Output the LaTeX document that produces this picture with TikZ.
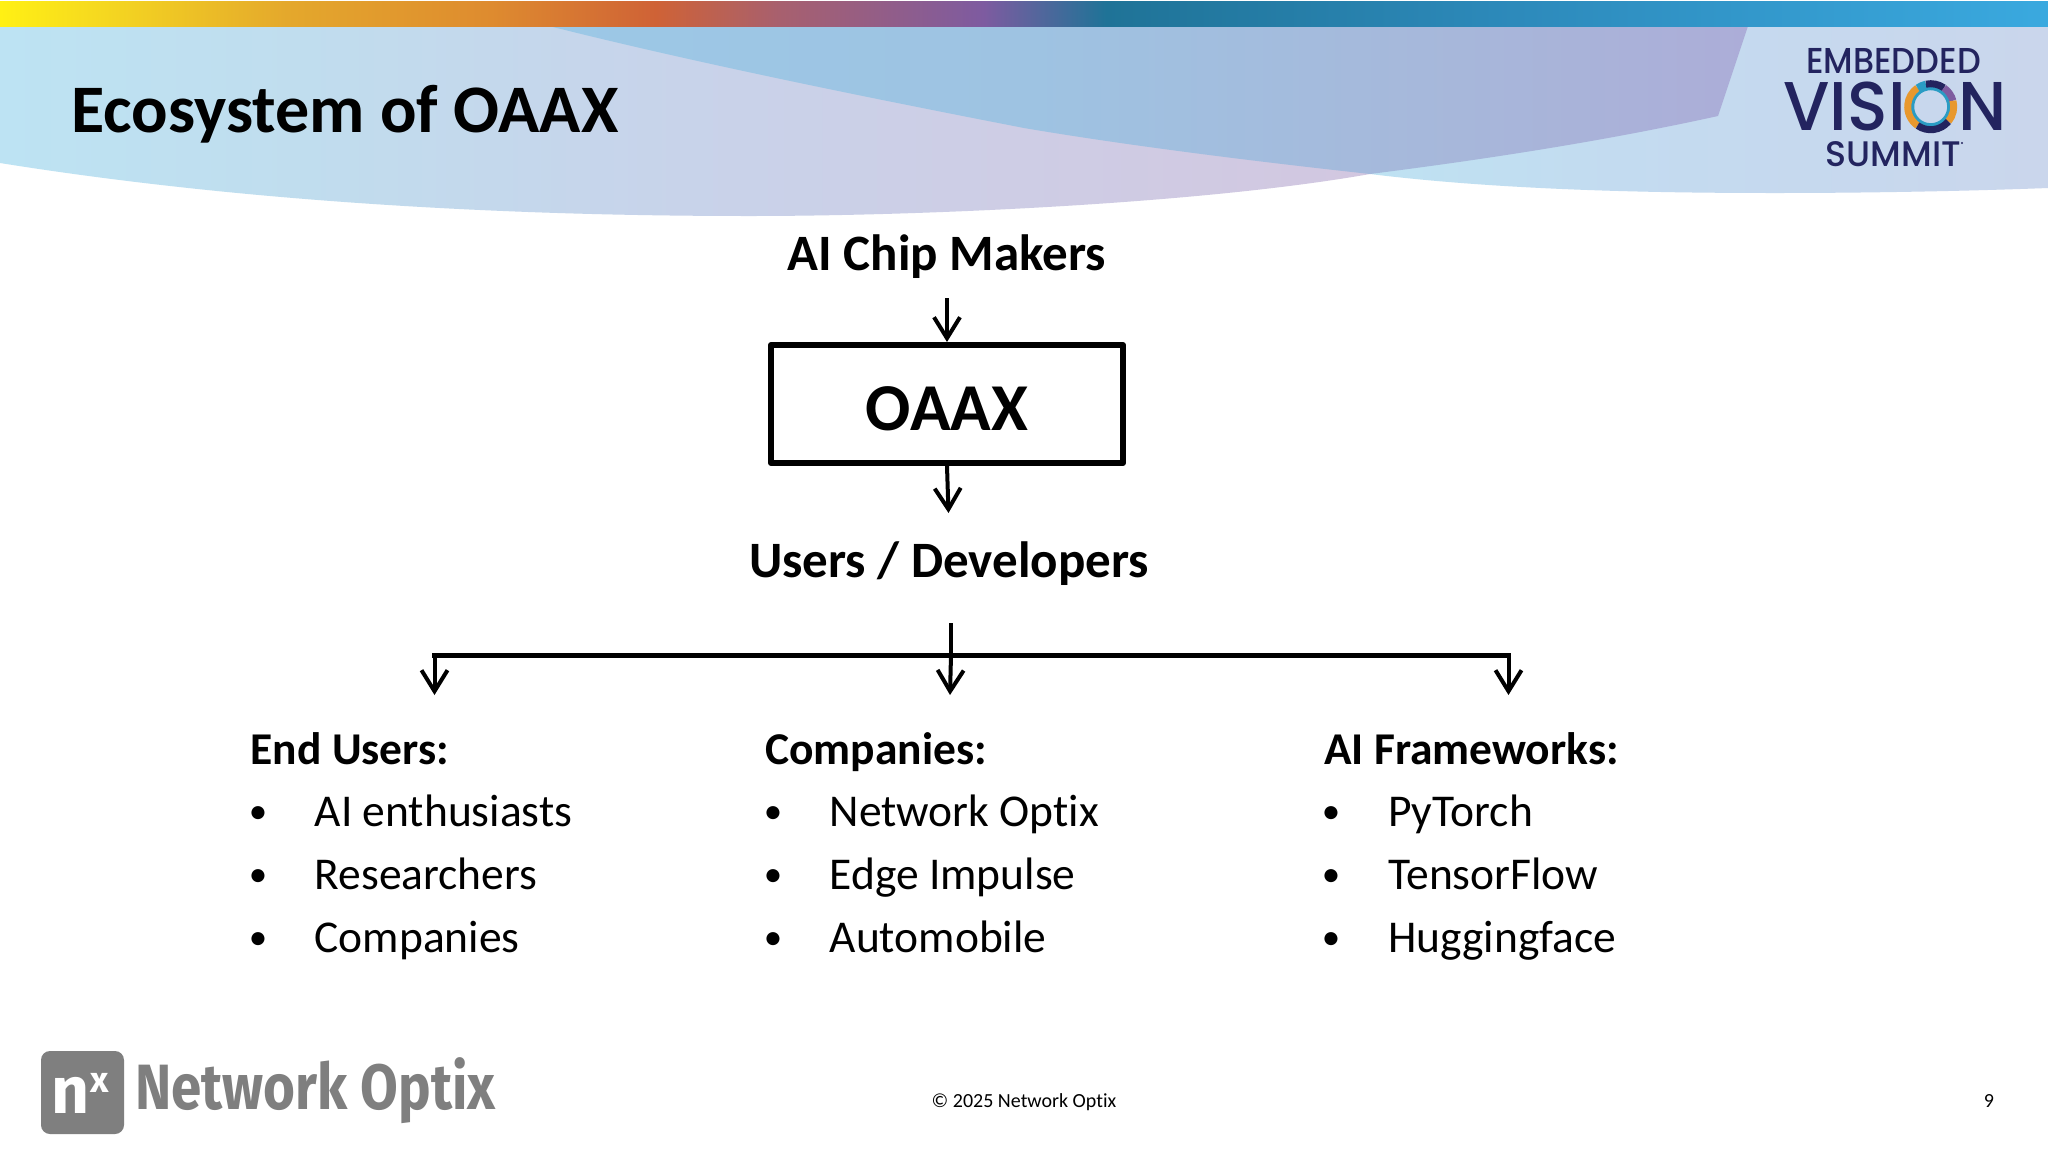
\documentclass[tikz,border=0pt]{standalone}
\usepackage{fontspec}
\usepackage{graphicx}
\setmainfont{Carlito}[Ligatures=NoCommon]
\newfontfamily\logofont{Poppins Medium}
\newfontfamily\nxfont{Fira Sans}
\usetikzlibrary{arrows.meta}
\definecolor{navy}{HTML}{23245F}
\definecolor{nxgray}{HTML}{7F7F7F}
\definecolor{ringteal}{HTML}{2A9CC4}
\definecolor{ringorange}{HTML}{E8982E}
\definecolor{ringpurple}{HTML}{7E5BA0}
\definecolor{ringyellow}{HTML}{F0C82E}
\definecolor{bandA}{HTML}{FFF014}\definecolor{bandB}{HTML}{F5D820}
\definecolor{bandC}{HTML}{E4A82C}\definecolor{bandD}{HTML}{DE8B2F}
\definecolor{bandE}{HTML}{CF6236}\definecolor{bandF}{HTML}{A8606E}
\definecolor{bandG}{HTML}{7E5BA0}\definecolor{bandH}{HTML}{1F7397}
\definecolor{bandI}{HTML}{2D8ABB}\definecolor{bandJ}{HTML}{3AA9DF}
\definecolor{lwA}{HTML}{BDE3F3}\definecolor{lwB}{HTML}{C0DDEE}
\definecolor{lwC}{HTML}{C8D3EA}\definecolor{lwD}{HTML}{CECDE5}\definecolor{lwE}{HTML}{D2C7E0}
\definecolor{rwA}{HTML}{BEE2F2}\definecolor{rwB}{HTML}{C3DBF0}\definecolor{rwC}{HTML}{CAD6EC}
\definecolor{dwA}{HTML}{9CC8E6}\definecolor{dwB}{HTML}{9EC3E2}
\definecolor{dwC}{HTML}{A7B7DA}\definecolor{dwD}{HTML}{ACADD8}
% stops run from 25bp (left edge of path) to 75bp (right edge)
\pgfdeclarehorizontalshading{topband}{100bp}{
 color(0bp)=(bandA);
 color(25bp)=(bandA);color(27.5bp)=(bandB);color(32bp)=(bandC);color(37bp)=(bandD);
 color(41bp)=(bandE);color(44bp)=(bandF);color(49bp)=(bandG);color(52bp)=(bandH);
 color(62bp)=(bandI);color(75bp)=(bandJ);color(100bp)=(bandJ)}
\pgfdeclarehorizontalshading{leftwave}{100bp}{
 color(0bp)=(lwA);color(25bp)=(lwA);color(36bp)=(lwB);color(50bp)=(lwC);
 color(62bp)=(lwD);color(75bp)=(lwE);color(100bp)=(lwE)}
\pgfdeclarehorizontalshading{rightwave}{100bp}{
 color(0bp)=(rwA);color(25bp)=(rwA);color(43bp)=(rwB);color(75bp)=(rwC);color(100bp)=(rwC)}
\pgfdeclarehorizontalshading{darkwave}{100bp}{
 color(0bp)=(dwA);color(25bp)=(dwA);color(45bp)=(dwB);color(63bp)=(dwC);color(75bp)=(dwD);color(100bp)=(dwD)}
\newcommand{\segarc}[5]{\draw[line width=#5pt,#1] (#2:#4) arc[start angle=#2,end angle=#3,radius=#4];}
\tikzset{
 arrowline/.style={line width=4pt,-{Straight Barb[length=21pt,width=26pt,line width=4pt]}},
 plainline/.style={line width=4pt},
 head/.style={font=\fontsize{51}{51}\selectfont\bfseries,anchor=base,inner sep=0pt,text=black},
 listhead/.style={font=\fontsize{45.5}{45.5}\selectfont\bfseries,anchor=base west,inner sep=0pt,text=black},
 listitem/.style={font=\fontsize{45.5}{45.5}\selectfont,anchor=base west,inner sep=0pt,text=black},
 listbullet/.style={font=\fontsize{37}{37}\selectfont,anchor=base,inner sep=0pt,text=black},
 foot/.style={font=\fontsize{20}{20}\selectfont,anchor=base,inner sep=0pt,text=black},
 logotext/.style={font=\logofont,text=navy,inner sep=0pt,anchor=base},
}
\begin{document}
\begin{tikzpicture}[x=1pt,y=-1pt]
\useasboundingbox (0,0) rectangle (2048,1152);
\fill[white] (0,0) rectangle (2048,1152);
% header
\shade[shading=rightwave] (1370,174) .. controls (1500,190) and (1650,193) .. (1775,193)
  .. controls (1870,193) and (1970,191) .. (2048,188) -- (2048,26) -- (1370,26) -- cycle;
\shade[shading=leftwave] (0,26) -- (0,163) .. controls (200,195) and (450,216) .. (750,216)
  .. controls (920,216) and (1200,204) .. (1370,174) -- (1370,26) -- cycle;
\shade[shading=darkwave] (549,26) .. controls (700,64) and (880,100) .. (1024,128)
  .. controls (1130,146) and (1260,162) .. (1370,174)
  .. controls (1480,160) and (1600,142) .. (1718,116) -- (1748,26) -- cycle;
\shade[shading=topband] (0,1) rectangle (2048,26);
% title
\node[font=\fontsize{68}{68}\selectfont\bfseries,anchor=base west,inner sep=0pt] (title) at (71,132) {Ecosystem of OAAX};
% summit logo
\node[logotext] (embedded) at (1893.5,73) {\scalebox{.93}[1]{\fontsize{36}{36}\selectfont EMBEDDED}};
\node[logotext] (vision) at (1895,130) {\scalebox{.97}[1]{\fontsize{69}{69}\selectfont VISI\textcolor{rwC}{O}N}};
\node[logotext] (summit) at (1893.5,166) {\scalebox{.98}[1]{\fontsize{35.5}{35.5}\selectfont SUMMIT}};
\fill[navy] (1962,143) circle (1.2pt);
\begin{scope}[shift={(1930.7,106.7)}]
 \segarc{ringteal}{0}{360}{18.5}{4}
 \segarc{ringorange}{125}{235}{23}{7}
 \segarc{ringteal}{235}{258}{23}{7}
 \segarc{navy}{258}{305}{23}{7}
 \segarc{ringpurple}{305}{345}{23}{7}
 \segarc{ringorange}{345}{400}{23}{7}
 \segarc{navy}{40}{125}{23}{7}
\end{scope}
% diagram
\node[head] (chip) at (947,270) {AI Chip Makers};
\node[draw=black,line width=6pt,line join=round,minimum width=352pt,minimum height=118pt,outer sep=3pt,inner sep=0pt] (oaax) at (947,404) {};
\node[font=\fontsize{67}{67}\selectfont\bfseries,anchor=base,inner sep=0pt] (oaaxt) at (947,430) {OAAX};
\node[head] (users) at (949,577) {Users / Developers};
\coordinate (c1) at (947,298);
\coordinate (c2) at (948.5,513);
\draw[arrowline] (c1) -- (oaax.north);
\draw[arrowline] (oaax.south) -- (c2);
\coordinate (stem) at (951,623);
\coordinate (hub) at (951,655);
\coordinate (bl) at (434.5,655);
\coordinate (br) at (1508.5,655);
\coordinate (tl) at (434.5,695);
\coordinate (tm) at (950,695);
\coordinate (tr) at (1508.5,695);
\draw[plainline] (stem) -- (hub);
\draw[line width=5pt,line cap=rect] (bl) -- (br);
\draw[arrowline] (bl) -- (tl);
\draw[arrowline] (hub) -- (tm);
\draw[arrowline] (br) -- (tr);
% lists
\node[listhead] (h1) at (250.5,764) {End Users:};
\node[listbullet] (b11) at (258,823) {•};
\node[listitem] (i11) at (314.5,826) {AI enthusiasts};
\node[listbullet] (b12) at (258,886) {•};
\node[listitem] (i12) at (314.5,889) {Researchers};
\node[listbullet] (b13) at (258,949) {•};
\node[listitem] (i13) at (314.5,952) {Companies};
\node[listhead] (h2) at (765,764) {Companies:};
\node[listbullet] (b21) at (773,823) {•};
\node[listitem] (i21) at (829.5,826) {Network Optix};
\node[listbullet] (b22) at (773,886) {•};
\node[listitem] (i22) at (829.5,889) {Edge Impulse};
\node[listbullet] (b23) at (773,949) {•};
\node[listitem] (i23) at (829.5,952) {Automobile};
\node[listhead] (h3) at (1324,764) {AI Frameworks:};
\node[listbullet] (b31) at (1331,823) {•};
\node[listitem] (i31) at (1388,826) {PyTorch};
\node[listbullet] (b32) at (1331,886) {•};
\node[listitem] (i32) at (1388,889) {TensorFlow};
\node[listbullet] (b33) at (1331,949) {•};
\node[listitem] (i33) at (1388,952) {Huggingface};
% footer
\fill[nxgray,rounded corners=9pt] (41,1051) rectangle (124,1134);
\node[font=\nxfont\bfseries\fontsize{66}{66}\selectfont,text=white,anchor=base,inner sep=0pt] (nxn) at (70.5,1113) {n};
\node[font=\nxfont\bfseries\fontsize{36}{36}\selectfont,text=white,anchor=base,inner sep=0pt] (nxx) at (99.5,1092) {x};
\node[font=\nxfont\bfseries,text=nxgray,anchor=base west,inner sep=0pt] (nxname) at (135,1109) {\scalebox{.855}[1]{\fontsize{64}{64}\selectfont Network Optix}};
\node[foot] (copy) at (1024,1107) {© 2025 Network Optix};
\node[foot] (page) at (1989,1107) {9};
\end{tikzpicture}
\end{document}
